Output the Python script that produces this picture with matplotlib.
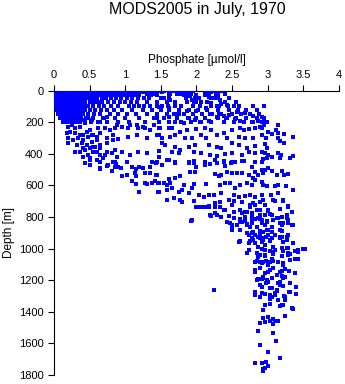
import matplotlib
matplotlib.use("Agg")
import matplotlib.pyplot as plt

# phosphate values read along the standard surface levels (depth in m)
row_0 = [0.01, 0.03, 0.06, 0.09, 0.12, 0.15, 0.19, 0.22, 0.26, 0.3, 0.34, 0.38, 0.42, 0.47, 0.52,
         0.57, 0.62, 0.68, 0.74, 0.8, 0.86, 0.92, 0.98, 1.04, 1.1, 1.16, 1.22, 1.28, 1.34, 1.4,
         1.46, 1.55, 1.68, 1.76, 1.85, 1.95, 2.15, 2.25, 2.35]
row_10 = [0.02, 0.05, 0.08, 0.11, 0.14, 0.18, 0.21, 0.25, 0.29, 0.33, 0.37, 0.41, 0.46, 0.51, 0.56,
          0.61, 0.67, 0.73, 0.79, 0.85, 0.91, 0.97, 1.03, 1.09, 1.15, 1.21, 1.27, 1.33, 1.39, 1.45,
          1.52, 1.72, 1.8, 1.9, 2.2, 2.3]
row_20 = [0.01, 0.04, 0.07, 0.1, 0.13, 0.17, 0.2, 0.24, 0.28, 0.32, 0.36, 0.4, 0.44, 0.49, 0.54,
          0.6, 0.65, 0.71, 0.77, 0.83, 0.9, 0.96, 1.02, 1.08, 1.14, 1.2, 1.3, 1.42, 1.63, 1.78,
          1.92, 2.12, 2.28, 2.4]
row_30 = [0.02, 0.05, 0.08, 0.12, 0.16, 0.2, 0.24, 0.28, 0.32, 0.37, 0.42, 0.47, 0.52, 0.58, 0.63,
          0.69, 0.75, 0.81, 0.88, 0.95, 1.01, 1.08, 1.14, 1.2, 1.36, 1.45, 1.62, 2.0, 2.18, 2.3]
row_50 = [0.01, 0.04, 0.07, 0.1, 0.14, 0.18, 0.22, 0.26, 0.3, 0.35, 0.4, 0.45, 0.5, 0.55, 0.61,
          0.67, 0.73, 0.8, 0.87, 0.94, 1.02, 1.1, 1.18, 1.26, 1.33, 1.5, 1.62, 1.85, 1.98, 2.2,
          2.3, 2.45]
row_75 = [0.02, 0.05, 0.09, 0.13, 0.17, 0.21, 0.25, 0.29, 0.34, 0.39, 0.44, 0.5, 0.56, 0.62, 0.68,
          0.76, 0.84, 0.92, 1.0, 1.08, 1.17, 1.3, 1.45, 1.58, 1.7, 1.86, 2.0, 2.15, 2.4, 2.55]
row_100 = [0.03, 0.07, 0.11, 0.15, 0.19, 0.23, 0.27, 0.32, 0.37, 0.42, 0.48, 0.55, 0.63, 0.7, 0.8,
           0.9, 1.05, 1.12, 1.2, 1.27, 1.35, 1.44, 1.52, 1.6, 1.7, 1.78, 1.95, 2.05, 2.2, 2.32,
           2.44, 2.6, 2.8, 2.95]
row_125 = [0.04, 0.08, 0.12, 0.16, 0.2, 0.24, 0.28, 0.33, 0.38, 0.44, 0.5, 0.58, 0.66, 0.75, 0.84,
           0.95, 1.1, 1.25, 1.38, 1.5, 1.62, 1.75, 1.9, 2.02, 2.15, 2.3, 2.45, 2.58, 2.7, 2.85]
row_150 = [0.06, 0.1, 0.14, 0.18, 0.22, 0.26, 0.3, 0.35, 0.41, 0.48, 0.56, 0.65, 0.78, 0.9, 1.02,
           1.15, 1.3, 1.45, 1.58, 1.7, 1.82, 1.95, 2.08, 2.22, 2.35, 2.5, 2.62, 2.75, 2.88]
row_175 = [0.08, 0.12, 0.16, 0.2, 0.24, 0.28, 0.33, 0.38, 0.45, 0.55, 0.7, 0.85, 1.0, 1.2, 1.4,
           1.55, 1.72, 1.88, 2.0, 2.12, 2.3, 2.42, 2.55, 2.7, 2.85, 2.95]
row_200 = [0.12, 0.16, 0.2, 0.24, 0.28, 0.32, 0.37, 0.43, 0.52, 0.62, 0.75, 0.9, 1.05, 1.28, 1.48,
           1.62, 1.78, 1.92, 2.05, 2.2, 2.38, 2.52, 2.66, 2.8, 2.92, 2.99]
row_depths = [0, 10, 20, 30, 50, 75, 100, 125, 150, 175, 200]
rows = [row_0, row_10, row_20, row_30, row_50, row_75, row_100, row_125, row_150, row_175, row_200]

# (phosphate, depth) pairs
upper_left = [(0.20, 229), (0.25, 218), (0.29, 239), (0.37, 229), (0.44, 208), (0.18, 271),
              (0.22, 261), (0.29, 271), (0.37, 282), (0.46, 261), (0.51, 250), (0.20, 303),
              (0.27, 313), (0.34, 303), (0.41, 313), (0.48, 292), (0.55, 282), (0.65, 271),
              (0.32, 345), (0.39, 334), (0.46, 345), (0.53, 324), (0.60, 313), (0.37, 387),
              (0.44, 377), (0.51, 366), (0.58, 356), (0.65, 366), (0.74, 334), (0.83, 313),
              (0.41, 419), (0.48, 408), (0.60, 440), (0.69, 429), (0.44, 457), (0.51, 472),
              (0.65, 493), (0.76, 472), (0.86, 482), (0.55, 387), (0.65, 408), (0.74, 387),
              (0.86, 377), (0.29, 387), (0.19, 330),
              (0.41, 187), (0.48, 176), (0.53, 187), (0.65, 197), (0.69, 176), (0.74, 165),
              (0.88, 218), (1.07, 218), (1.16, 218), (1.25, 229), (1.40, 218), (0.62, 239),
              (0.72, 239), (0.79, 250), (0.86, 239), (0.95, 229), (1.04, 239), (1.18, 239),
              (1.28, 235), (1.35, 250), (1.47, 235), (0.41, 282), (0.53, 282), (0.60, 292),
              (0.74, 303), (0.83, 282), (0.90, 307), (1.04, 292), (1.16, 282), (1.30, 303),
              (1.44, 282), (0.41, 362), (0.55, 355), (0.65, 345), (0.60, 387), (0.72, 408),
              (0.81, 398), (0.88, 419), (0.95, 387), (1.07, 408), (1.18, 387), (1.30, 398),
              (1.37, 454), (1.47, 419), (0.51, 429), (0.65, 454), (0.86, 450)]

upper_right = [(1.44, 7), (1.51, 3), (1.61, 0), (1.63, 18), (1.72, 24), (1.77, 24), (1.82, 28),
               (1.86, 24), (1.91, 32), (2.12, 28), (2.17, 39), (2.26, 49), (2.33, 60), (2.40, 70),
               (1.54, 49), (1.63, 60), (1.93, 60), (1.96, 70), (2.03, 49), (2.07, 75), (2.21, 81),
               (2.29, 96), (2.35, 88), (2.43, 92), (2.52, 96), (1.47, 102), (1.61, 113),
               (1.68, 151), (1.75, 151), (1.86, 130), (2.00, 130), (2.14, 109), (2.19, 151),
               (2.31, 151), (2.38, 159), (2.45, 155), (2.57, 138), (2.68, 144), (2.80, 159),
               (2.92, 165), (1.44, 176), (1.54, 176), (1.61, 165), (1.70, 197), (1.82, 208),
               (1.89, 172), (1.98, 187), (2.07, 197), (2.17, 193), (2.29, 165), (2.43, 176),
               (2.54, 180), (2.61, 193), (2.66, 197), (2.78, 201), (2.87, 193), (2.94, 201),
               (1.49, 239), (1.61, 235), (1.65, 239), (1.77, 260), (1.86, 250), (2.00, 243),
               (2.12, 235), (2.21, 250), (2.38, 271), (2.50, 250), (2.61, 235), (2.66, 250),
               (2.73, 243), (2.82, 239), (2.92, 235), (1.47, 282), (1.51, 303), (1.63, 292),
               (1.70, 282), (1.84, 299), (1.93, 303), (2.07, 282), (2.14, 299), (2.29, 282),
               (2.43, 303), (2.59, 292), (2.68, 303), (2.80, 299), (2.92, 282), (1.51, 334),
               (1.56, 345), (1.70, 355), (1.77, 377), (1.89, 355), (1.98, 345), (2.17, 345),
               (2.29, 355), (2.35, 366), (2.50, 334), (2.59, 345), (2.71, 366), (2.82, 349),
               (2.96, 341), (1.47, 383), (1.65, 387), (1.75, 398), (1.96, 387), (2.07, 398),
               (2.19, 408), (2.29, 412), (2.40, 404), (2.50, 398), (2.64, 408), (2.73, 387),
               (2.82, 398), (2.92, 387), (1.58, 440), (1.70, 454), (1.89, 450), (1.96, 461),
               (2.12, 450), (2.26, 440), (2.38, 446), (2.50, 454), (2.64, 446), (2.82, 450),
               (2.92, 197), (2.95, 218), (2.89, 229), (3.15, 218), (3.12, 250), (3.01, 265),
               (3.06, 277), (3.14, 271), (3.23, 277), (3.36, 296), (2.98, 298), (3.15, 303),
               (3.17, 320), (3.23, 330), (2.99, 366), (2.96, 398), (3.01, 408), (3.06, 419),
               (3.15, 398), (3.18, 408), (3.17, 425), (3.31, 425), (3.35, 414), (2.94, 433),
               (2.99, 429)]

middle = [(0.51, 440), (0.64, 451), (0.74, 476), (0.64, 499), (0.83, 451), (0.87, 465), (0.90, 482),
          (0.94, 493), (0.82, 510), (1.02, 451), (1.09, 482), (1.15, 499), (1.20, 486), (1.25, 493),
          (1.35, 486), (1.43, 457), (1.03, 535), (0.95, 541), (1.14, 524), (1.15, 541), (1.28, 524),
          (1.35, 520), (1.43, 535), (1.09, 571), (1.15, 592), (1.28, 584), (1.31, 592), (1.37, 584),
          (1.42, 571), (1.20, 644), (1.46, 644), (1.46, 588),
          (1.44, 450), (1.51, 471), (1.61, 440), (1.70, 461), (1.89, 457), (1.97, 444), (2.00, 482),
          (1.91, 514), (1.98, 514), (2.12, 471), (2.19, 465), (2.29, 457), (2.38, 450), (2.40, 478),
          (2.49, 457), (2.54, 450), (2.66, 444), (2.78, 482), (2.82, 514), (2.92, 503), (1.77, 541),
          (1.44, 535), (1.61, 562), (1.70, 556), (1.63, 588), (1.47, 588), (1.54, 584), (1.58, 598),
          (1.83, 598), (1.93, 619), (1.96, 592), (2.14, 592), (2.26, 528), (2.31, 541), (2.35, 535),
          (2.43, 514), (2.50, 520), (2.57, 520), (2.64, 524), (2.73, 535), (2.80, 556), (2.87, 535),
          (2.94, 524), (2.33, 598), (2.40, 588), (2.47, 588), (2.54, 619), (2.61, 598), (2.71, 588),
          (2.78, 598), (2.82, 567), (2.92, 577), (1.47, 640), (1.58, 630), (1.65, 619), (1.75, 640),
          (1.79, 630), (1.89, 651), (2.03, 661), (2.10, 672), (2.17, 661), (2.24, 661), (2.35, 651),
          (2.45, 693), (2.52, 661), (2.59, 676), (2.68, 668), (2.75, 661), (2.82, 676), (2.92, 661),
          (1.58, 693), (1.68, 682), (1.77, 693), (2.00, 735), (2.07, 735), (2.17, 735), (2.26, 714),
          (2.33, 735), (2.40, 756), (2.50, 725), (2.61, 756), (2.68, 767), (2.75, 735), (2.82, 725),
          (2.89, 756), (2.96, 725), (2.19, 788), (2.29, 788), (1.92, 824), (2.35, 803), (2.43, 830),
          (2.52, 809), (2.61, 815), (2.68, 799), (2.78, 799), (2.87, 809), (2.50, 862), (2.57, 851),
          (2.64, 830), (2.71, 851), (2.78, 837), (2.85, 862), (2.92, 841), (2.50, 883), (2.61, 883),
          (2.71, 904), (2.80, 893), (2.89, 914), (2.78, 935), (2.82, 914),
          (2.92, 450), (2.96, 503), (3.01, 493), (3.06, 507), (3.13, 535), (3.20, 507), (3.23, 535),
          (3.29, 528), (2.94, 598), (2.99, 605), (3.10, 605), (3.15, 598), (3.26, 605), (3.36, 630),
          (3.14, 647), (3.04, 661), (2.94, 693), (3.08, 693), (3.21, 693), (3.28, 735), (3.01, 761),
          (2.96, 788), (3.03, 782), (2.92, 820), (2.99, 830), (3.08, 820), (3.15, 809), (3.20, 803),
          (3.27, 809), (3.34, 851), (3.28, 820), (3.22, 841), (3.17, 883), (3.01, 883), (2.94, 893),
          (3.10, 914), (3.20, 925), (3.27, 925), (2.92, 935), (2.98, 929)]

deep = [(1.79, 704), (1.96, 697), (2.03, 735), (2.12, 735), (2.17, 731), (2.26, 739), (2.33, 704),
        (2.52, 697), (2.64, 704), (2.75, 725), (2.80, 714), (2.89, 704), (2.96, 725), (3.10, 697),
        (3.22, 697), (3.29, 731), (2.21, 794), (2.26, 777), (2.38, 756), (2.45, 794), (2.52, 767),
        (2.64, 777), (2.71, 767), (2.78, 777), (2.85, 756), (2.89, 788), (3.01, 756), (3.06, 788),
        (3.17, 752), (3.20, 799), (3.27, 788), (3.34, 767),
        (2.47, 841), (2.50, 851), (2.61, 830), (2.68, 824), (2.71, 845), (2.75, 862), (2.78, 820),
        (2.82, 815), (2.89, 815), (2.92, 841), (2.96, 851), (2.99, 824), (3.06, 862), (3.13, 809),
        (3.17, 837), (3.20, 851), (3.27, 803), (3.29, 841), (3.36, 851), (2.99, 883), (3.06, 893),
        (2.89, 888), (2.78, 900), (3.20, 888), (1.93, 820),
        (2.59, 957), (2.73, 915), (2.78, 946), (2.82, 967), (2.87, 925), (2.92, 957), (2.96, 978),
        (3.01, 915), (3.03, 946), (3.08, 989), (3.17, 925), (3.22, 957), (3.27, 999), (3.29, 915),
        (3.36, 967), (3.43, 1010), (3.50, 1005),
        (2.61, 953), (2.73, 967), (2.75, 953), (2.80, 946), (2.89, 936), (2.94, 946), (3.03, 953),
        (3.06, 936), (3.17, 932), (3.27, 946), (2.73, 1010), (2.87, 989), (2.92, 1003),
        (2.96, 1010), (3.03, 1016), (3.10, 1010), (3.20, 999), (3.22, 1016), (3.29, 999),
        (3.38, 1016), (3.52, 1003), (2.85, 1031), (2.89, 1041), (2.96, 1046), (3.08, 1037),
        (3.31, 1037), (3.43, 1066),
        (2.71, 1031), (2.82, 1084), (2.87, 1052), (2.92, 1094), (2.96, 1041), (3.01, 1105),
        (3.06, 1063), (3.08, 1020), (3.15, 1084), (3.20, 1048), (3.22, 1105), (3.29, 1031),
        (3.31, 1073), (3.38, 1063), (3.43, 1020),
        (2.82, 1136), (2.85, 1079), (2.89, 1088), (2.94, 1084), (2.98, 1079), (3.03, 1088),
        (3.08, 1079), (3.07, 1121), (3.01, 1151), (3.17, 1147), (3.24, 1130), (3.30, 1142),
        (3.20, 1172), (2.92, 1193), (2.86, 1193), (3.22, 1094), (3.41, 1066), (3.29, 1041),
        (2.82, 1147), (2.85, 1200), (2.89, 1126), (2.94, 1178), (2.96, 1157), (3.01, 1210),
        (3.03, 1136), (3.06, 1189), (3.13, 1168), (3.17, 1210), (3.20, 1140), (3.24, 1178),
        (3.31, 1220), (3.38, 1157),
        (2.25, 1259), (2.82, 1273), (2.89, 1305), (2.92, 1242), (2.96, 1288), (3.03, 1316),
        (3.06, 1252), (3.10, 1295), (3.13, 1263), (3.15, 1326), (3.22, 1238), (3.24, 1305),
        (3.31, 1273), (3.40, 1246),
        (2.82, 1295), (2.89, 1305), (2.92, 1284), (3.03, 1295), (3.06, 1305), (3.10, 1284),
        (3.13, 1269), (3.15, 1220), (3.17, 1231), (3.22, 1185), (3.24, 1178), (3.30, 1273),
        (3.40, 1290), (3.23, 1299), (3.24, 1326), (3.22, 1357), (3.17, 1362), (3.03, 1353),
        (2.96, 1357), (3.34, 1379), (2.98, 1220), (2.89, 1231), (2.94, 1189), (2.99, 1200),
        (2.85, 1200), (3.03, 1252)]

tail = [(2.94, 1390), (2.96, 1357), (3.20, 1357), (3.35, 1383), (2.94, 1438), (3.01, 1432),
        (3.03, 1459), (3.08, 1447), (3.10, 1459), (3.15, 1459), (3.08, 1480), (3.24, 1425),
        (2.89, 1474), (2.96, 1463), (2.87, 1522), (3.07, 1537), (3.12, 1586), (2.89, 1607),
        (3.00, 1657), (3.17, 1691), (2.82, 1727), (2.92, 1723), (2.98, 1720), (3.01, 1742),
        (2.94, 1759), (2.96, 1755), (2.93, 1776)]

phos = []
depth = []
for d, r in zip(row_depths, rows):
    phos += r
    depth += [d] * len(r)
for grp in [upper_left, upper_right, middle, deep, tail]:
    phos += [p for p, d in grp]
    depth += [d for p, d in grp]

plt.rcParams['font.family'] = ['Liberation Sans', 'DejaVu Sans']

fig = plt.figure(figsize=(3.45, 3.84), dpi=100)
ax = fig.add_axes([0.1565, 0.0234, 0.8261, 0.7409])
ax.scatter(phos, depth, s=8, marker='s', color='#0000ff', linewidths=0, zorder=3)

ax.set_xlim(0, 4)
ax.set_ylim(1800, 0)
ax.xaxis.tick_top()
ax.xaxis.set_label_position('top')
ax.set_xticks([0, 0.5, 1, 1.5, 2, 2.5, 3, 3.5, 4])
ax.set_xticklabels(['0', '0.5', '1', '1.5', '2', '2.5', '3', '3.5', '4'])
ax.set_yticks(range(0, 1801, 200))
ax.tick_params(axis='both', direction='out', length=4.5, width=0.8, labelsize=8, pad=3)
ax.set_xlabel('Phosphate [\u00b5mol/l]', fontsize=8.5, labelpad=5)
ax.set_ylabel('Depth [m]', fontsize=8.5, labelpad=3)
for s in ['right', 'bottom']:
    ax.spines[s].set_visible(False)
for s in ['left', 'top']:
    ax.spines[s].set_linewidth(0.8)

fig.text(0.571, 0.976, 'MODS2005 in July, 1970', ha='center', va='center', fontsize=11.5)

fig.savefig('out.png', dpi=100)
